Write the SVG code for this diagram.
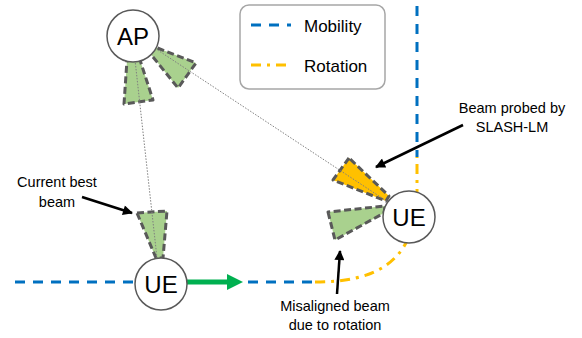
<svg xmlns="http://www.w3.org/2000/svg" width="582" height="338" viewBox="0 0 582 338">
<defs>
<marker id="ah" viewBox="0 0 10 10" refX="9" refY="5" markerWidth="4.5" markerHeight="4" orient="auto" markerUnits="strokeWidth"><path d="M0,0 L10,5 L0,10 z" fill="#000"/></marker>
<style>
.node{fill:#fff;stroke:#595959;stroke-width:1.5}
.lbl{font-family:"Liberation Sans",Arial,sans-serif;fill:#000}
.big{font-size:24px;text-anchor:middle}
.txt{font-size:14.5px;text-anchor:middle}
.leg{font-size:17px}
.beam{stroke:#595959;stroke-width:3;stroke-dasharray:7 3.5;stroke-linejoin:round}
.g{fill:#A9D18E}
.o{fill:#FFC000}
.mob{fill:none;stroke:#0070C0;stroke-width:3;stroke-dasharray:10 8}
.rot{fill:none;stroke:#FFC000;stroke-width:3;stroke-dasharray:10 6 3 6}
.dot{stroke:#7F7F7F;stroke-width:1;stroke-dasharray:1.5 1.5;fill:none}
.ann{stroke:#000;stroke-width:2.5;fill:none;marker-end:url(#ah)}
</style>
</defs>
<rect width="582" height="338" fill="#fff"/>
<g id="legend">
<rect x="240" y="5" width="145" height="84" rx="9" fill="#fff" stroke="#A6A6A6" stroke-width="1.5"/>
<line x1="251" y1="25" x2="291" y2="25" class="mob"/>
<line x1="251" y1="65" x2="291" y2="65" class="rot"/>
<text x="304" y="32" class="lbl leg">Mobility</text>
<text x="304" y="72" class="lbl leg">Rotation</text>
</g>
<g id="paths">
<line x1="15" y1="282" x2="135" y2="282" class="mob"/>
<line x1="248" y1="282" x2="315" y2="282" class="mob"/>
<path d="M315,282 C372,282 413,265 417,200 L417,157" class="rot"/>
<line x1="417" y1="157" x2="417" y2="6" class="mob" stroke-dashoffset="3"/>
</g>
<g id="beams">
<polygon points="127,60 140,60 153,100 124,104" class="beam g"/>
<polygon points="149,52 155,47 196,63 178,88" class="beam g"/>
<polygon points="137,213 167,211 163,258 156,258" class="beam g"/>
<polygon points="349,158 333,180 386,201 389,196" class="beam o"/>
<polygon points="328,212 335,240 384,213 385,206" class="beam g"/>
</g>
<g id="connectors">
<line x1="135" y1="60" x2="157" y2="258" class="dot"/>
<line x1="150" y1="45" x2="388" y2="202" class="dot"/>
<line x1="187" y1="282" x2="229" y2="282" stroke="#00B050" stroke-width="5"/>
<polygon points="227,274 243,282 227,290" fill="#00B050"/>
<line x1="463" y1="125" x2="376" y2="167" class="ann"/>
<line x1="82" y1="197" x2="132" y2="213" class="ann"/>
<line x1="337" y1="294" x2="340" y2="251" class="ann"/>
</g>
<g id="AP">
<circle cx="133" cy="36" r="26" class="node"/>
<text x="133" y="44.5" class="lbl big">AP</text>
</g>
<g id="UE1">
<circle cx="161" cy="284" r="26" class="node"/>
<text x="161" y="292.5" class="lbl big">UE</text>
</g>
<g id="UE2">
<circle cx="409" cy="217" r="26" class="node"/>
<text x="409" y="225.5" class="lbl big">UE</text>
</g>
<g id="labels">
<text x="512" y="113" class="lbl txt">Beam probed by</text>
<text x="512" y="132" class="lbl txt">SLASH-LM</text>
<text x="57" y="187" class="lbl txt">Current best</text>
<text x="57" y="207" class="lbl txt">beam</text>
<text x="335" y="311" class="lbl txt">Misaligned beam</text>
<text x="335" y="330" class="lbl txt">due to rotation</text>
</g>
</svg>
